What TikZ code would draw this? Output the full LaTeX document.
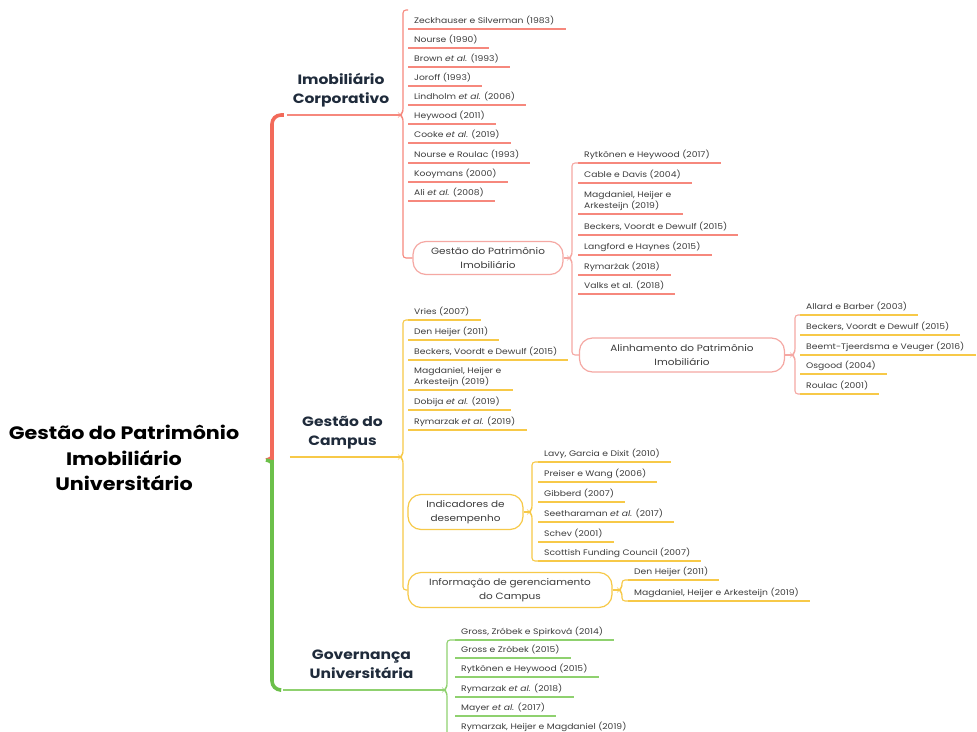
\documentclass[tikz,border=0pt]{standalone}
\usepackage{fontspec}
\setmainfont{Poppins}[FakeStretch=1.15]
\definecolor{mainred}{HTML}{F26A5A}
\definecolor{subred}{HTML}{F6887D}
\definecolor{pinkline}{HTML}{F5A8A3}
\definecolor{yell}{HTML}{F7C948}
\definecolor{maingreen}{HTML}{6CC04A}
\definecolor{subgreen}{HTML}{8FD16F}
\definecolor{leaftext}{HTML}{3C3C3C}
\definecolor{titletext}{HTML}{1F2B3B}
\tikzset{
  leaf/.style={anchor=south west, inner xsep=6pt, inner ysep=3pt, text depth=1.9pt,
    font=\fontsize{8}{11.5}\selectfont, text=leaftext, align=left},
  topic/.style={draw, fill=white, rounded corners=13pt, line width=1.2pt, align=center,
    font=\fontsize{9.1}{14}\selectfont, text=leaftext, inner sep=2pt},
  title/.style={anchor=south, inner xsep=0pt, inner ysep=8pt, text depth=3.5pt, align=center,
    font=\fontsize{13.5}{19}\selectfont\bfseries, text=titletext},
  ul/.style={line width=1.1pt},
  brc/.style={line width=1.1pt, rounded corners=3pt},
}
% brace: style, first end, tip, last end
\newcommand\topicbrace[4]{%
  \draw[brc,#1] (#2) -| ([xshift=3pt,yshift=3pt]#3) -- (#3) -- ([xshift=3pt,yshift=-3pt]#3) |- (#4);}
% underline beneath a leaf node
\newcommand\leafline[2]{\draw[ul,#1] (#2.south west) -- ([xshift=5pt]#2.south east);}
\begin{document}
\begin{tikzpicture}[x=1pt,y=-1pt]
\fill[white] (0,0) rectangle (977,731);
\useasboundingbox (0,0) rectangle (977,731);
\clip (0,0) rectangle (977,731);

% root
\node[font=\fontsize{18}{25.5}\selectfont\bfseries, align=center, text=black] (root) at (124,458)
  {Gestão do Patrimônio\\Imobiliário\\Universitário};
\coordinate (rtip) at (266,460);

% main topics
\node[title, minimum width=108pt] (T1) at (341,115) {Imobiliário\\Corporativo};
\node[title, minimum width=105pt] (T2) at (342.5,457) {Gestão do\\Campus};
\node[title, minimum width=157pt] (T3) at (361.5,690) {Governança\\Universitária};

% main brace
\draw[mainred, line width=3.6pt, rounded corners=9pt] ([xshift=-3pt]T1.south west)
  -| ([xshift=6pt,yshift=9pt]rtip) to[out=-90,in=0] (rtip);
\draw[maingreen, line width=3.6pt, rounded corners=9pt] (rtip) to[out=0,in=90]
  ([xshift=6pt,yshift=-9pt]rtip) |- ([xshift=-3pt]T3.south west);

% tips of the sub braces
\coordinate (pA) at (400,115);
\coordinate (pB) at (569,258);
\coordinate (pC) at (792,355);
\coordinate (pD) at (400,457);
\coordinate (pE) at (529,512);
\coordinate (pF) at (619,590);
\coordinate (pG) at (444,690);
\coordinate (aTop) at (408,10);

\draw[ul,subred] (T1.south west) -- (pA);
\draw[ul,yell] (T2.south west) -- (pD);
\draw[ul,subgreen] (T3.south west) -- (pG);

% Imobiliário Corporativo
\node[leaf] (A1) at (408,29) {Zeckhauser e Silverman (1983)};
\node[leaf] (A2) at (408,48) {Nourse (1990)};
\node[leaf] (A3) at (408,67) {Brown \textit{et al.} (1993)};
\node[leaf] (A4) at (408,86) {Joroff (1993)};
\node[leaf] (A5) at (408,105) {Lindholm \textit{et al.} (2006)};
\node[leaf] (A6) at (408,124) {Heywood (2011)};
\node[leaf] (A7) at (408,143) {Cooke \textit{et al.} (2019)};
\node[leaf] (A8) at (408,163) {Nourse e Roulac (1993)};
\node[leaf] (A9) at (408,182) {Kooymans (2000)};
\node[leaf] (A10) at (408,201) {Ali \textit{et al.} (2008)};
\foreach \n in {A1,A2,A3,A4,A5,A6,A7,A8,A9,A10} {\leafline{subred}{\n}}
\node[topic, draw=pinkline, minimum width=150pt, minimum height=33pt] (B0) at (488,258)
  {Gestão do Patrimônio\\Imobiliário};
\topicbrace{subred}{aTop}{pA}{B0.west}

% Gestão do Patrimônio Imobiliário
\node[leaf] (B1) at (578,163) {Rytkönen e Heywood (2017)};
\node[leaf] (B2) at (578,183) {Cable e Davis (2004)};
\node[leaf] (B3) at (578,214) {Magdaniel, Heijer e\\Arkesteijn (2019)};
\node[leaf] (B4) at (578,235) {Beckers, Voordt e Dewulf (2015)};
\node[leaf] (B5) at (578,255) {Langford e Haynes (2015)};
\node[leaf] (B6) at (578,275) {Rymarżak (2018)};
\node[leaf] (B7) at (578,294) {Valks et al. (2018)};
\foreach \n in {B1,B2,B3,B4,B5,B6,B7} {\leafline{subred}{\n}}
\node[topic, draw=pinkline, minimum width=205pt, minimum height=34pt] (C0) at (682,355)
  {Alinhamento do Patrimônio\\Imobiliário};
\draw[brc,pinkline] (B0.east) -- (pB);
\topicbrace{pinkline}{B1.south west}{pB}{C0.west}

% Alinhamento do Patrimônio Imobiliário
\node[leaf] (C1) at (800,315) {Allard e Barber (2003)};
\node[leaf] (C2) at (800,335) {Beckers, Voordt e Dewulf (2015)};
\node[leaf] (C3) at (800,355) {Beemt-Tjeerdsma e Veuger (2016)};
\node[leaf] (C4) at (800,374) {Osgood (2004)};
\node[leaf] (C5) at (800,394) {Roulac (2001)};
\foreach \n in {C1,C2,C3,C4,C5} {\leafline{yell}{\n}}
\draw[brc,pinkline] (C0.east) -- (pC);
\topicbrace{pinkline}{C1.south west}{pC}{C5.south west}

% Gestão do Campus
\node[leaf] (D1) at (408,320) {Vries (2007)};
\node[leaf] (D2) at (408,340) {Den Heijer (2011)};
\node[leaf] (D3) at (408,360) {Beckers, Voordt e Dewulf (2015)};
\node[leaf] (D4) at (408,390) {Magdaniel, Heijer e\\Arkesteijn (2019)};
\node[leaf] (D5) at (408,410) {Dobija \textit{et al.} (2019)};
\node[leaf] (D6) at (408,430) {Rymarzak \textit{et al.} (2019)};
\foreach \n in {D1,D2,D3,D4,D5,D6} {\leafline{yell}{\n}}
\node[topic, draw=yell, minimum width=115pt, minimum height=35pt] (E0) at (465.5,512)
  {Indicadores de\\desempenho};
\node[topic, draw=yell, minimum width=204pt, minimum height=35pt] (F0) at (510,590)
  {Informação de gerenciamento\\do Campus};
\topicbrace{yell}{D1.south west}{pD}{F0.west}

% Indicadores de desempenho
\node[leaf] (E1) at (538,462) {Lavy, Garcia e Dixit (2010)};
\node[leaf] (E2) at (538,482) {Preiser e Wang (2006)};
\node[leaf] (E3) at (538,502) {Gibberd (2007)};
\node[leaf] (E4) at (538,522) {Seetharaman \textit{et al.} (2017)};
\node[leaf] (E5) at (538,542) {Schev (2001)};
\node[leaf] (E6) at (538,561) {Scottish Funding Council (2007)};
\foreach \n in {E1,E2,E3,E4,E5,E6} {\leafline{yell}{\n}}
\draw[brc,yell] (E0.east) -- (pE);
\topicbrace{yell}{E1.south west}{pE}{E6.south west}

% Informação de gerenciamento do Campus
\node[leaf] (F1) at (628,580) {Den Heijer (2011)};
\node[leaf] (F2) at (628,601) {Magdaniel, Heijer e Arkesteijn (2019)};
\foreach \n in {F1,F2} {\leafline{yell}{\n}}
\draw[brc,yell] (F0.east) -- (pF);
\topicbrace{yell}{F1.south west}{pF}{F2.south west}

% Governança Universitária
\node[leaf] (G1) at (455,640) {Gross, Zróbek e Spirková (2014)};
\node[leaf] (G2) at (455,658) {Gross e Zróbek (2015)};
\node[leaf] (G3) at (455,677) {Rytkönen e Heywood (2015)};
\node[leaf] (G4) at (455,697) {Rymarzak \textit{et al.} (2018)};
\node[leaf] (G5) at (455,716) {Mayer \textit{et al.} (2017)};
\node[leaf] (G6) at (455,735) {Rymarzak, Heijer e Magdaniel (2019)};
\foreach \n in {G1,G2,G3,G4,G5,G6} {\leafline{subgreen}{\n}}
\topicbrace{subgreen}{G1.south west}{pG}{G6.south west}
\end{tikzpicture}
\end{document}
